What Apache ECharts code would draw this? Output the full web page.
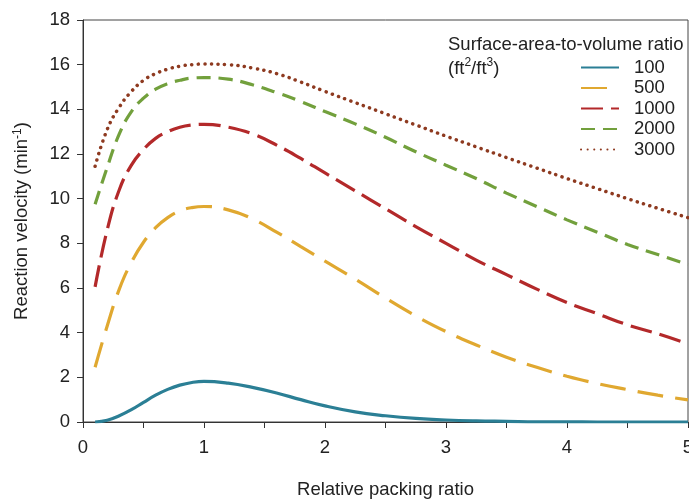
<!DOCTYPE html>
<html>
<head>
<meta charset="utf-8">
<script src="https://cdn.jsdelivr.net/npm/echarts@6/dist/echarts.min.js"></script>
<style>
  html, body { margin: 0; padding: 0; background: #fff; }
  #chart { width: 689px; height: 499px; }
</style>
</head>
<body>
<div id="chart"></div>
<script>
// relative packing ratio
const packing = [0.1, 0.2, 0.3, 0.4, 0.5, 0.6, 0.7, 0.8, 0.9, 1.0, 1.2, 1.4, 1.6, 1.8, 2.0,
  2.25, 2.5, 2.75, 3.0, 3.25, 3.5, 3.75, 4.0, 4.25, 4.5, 4.75, 5.0]

// reaction velocity (min^-1) for each surface-area-to-volume ratio
const sav100 = [0.0, 0.08, 0.28, 0.55, 0.88, 1.2, 1.46, 1.65, 1.77, 1.82, 1.74, 1.55, 1.3, 1.0, 0.72,
  0.45, 0.28, 0.16, 0.09, 0.05, 0.03, 0.01, 0.01, 0, 0, 0, 0]
const sav500 = [2.45, 4.3, 5.95, 7.15, 8.05, 8.7, 9.15, 9.45, 9.6, 9.65, 9.5, 9.1, 8.5, 7.85, 7.2,
  6.4, 5.55, 4.75, 4.05, 3.45, 2.9, 2.45, 2.05, 1.72, 1.45, 1.2, 0.99]
const sav1000 = [6.05, 8.6, 10.4, 11.5, 12.2, 12.7, 13.0, 13.2, 13.3, 13.33, 13.2, 12.9, 12.4, 11.8, 11.15,
  10.35, 9.55, 8.75, 8.0, 7.25, 6.6, 5.95, 5.35, 4.85, 4.35, 3.95, 3.5]
const sav2000 = [9.75, 11.4, 12.9, 13.9, 14.5, 14.9, 15.15, 15.3, 15.4, 15.42, 15.35, 15.1, 14.75, 14.35, 13.9,
  13.35, 12.75, 12.1, 11.5, 10.9, 10.25, 9.65, 9.05, 8.5, 7.95, 7.5, 7.05]
const sav3000 = [11.45, 13.1, 14.1, 14.8, 15.3, 15.6, 15.8, 15.93, 16.0, 16.03, 16.0, 15.85, 15.6, 15.22, 14.8,
  14.3, 13.8, 13.3, 12.8, 12.32, 11.84, 11.37, 10.9, 10.45, 10.0, 9.57, 9.15]

const seriesNames = ['100', '500', '1000', '2000', '3000']
const seriesValues = [sav100, sav500, sav1000, sav2000, sav3000]
const colors = ['#2b7f95', '#e0a830', '#b3292a', '#72a03c', '#8e3a20']
// line dashes per curve
const dashes = ['solid', [26, 12], [22, 8], [14, 8], [0.1, 6.5]]

const font = 'Liberation Sans, Arial, sans-serif'

let chart = echarts.init(document.getElementById('chart'))

let series = seriesNames.map((name, i) => ({
  name: name,
  type: 'line',
  smooth: 0.45,
  showSymbol: false,
  symbol: 'none',
  data: packing.map((x, j) => [x, seriesValues[i][j]]),
  lineStyle: {
    color: colors[i],
    width: i === 4 ? 3.5 : 3.2,
    type: dashes[i],
    cap: i === 4 ? 'round' : 'butt'
  },
  itemStyle: { color: colors[i] }
}))

chart.setOption({
  animation: false,
  backgroundColor: '#fff',
  title: {
    text: 'Surface-area-to-volume ratio\n(ft{sup|2}/ft{sup|3})',
    left: 443,
    top: 28,
    textStyle: {
      fontFamily: font,
      fontSize: 18.5,
      fontWeight: 'normal',
      color: '#222',
      lineHeight: 24,
      rich: {
        sup: { fontSize: 12, verticalAlign: 'top', lineHeight: 18, fontFamily: font, color: '#222' }
      }
    }
  },
  legend: {
    orient: 'vertical',
    left: 575,
    top: 53,
    itemWidth: 38,
    itemHeight: 4,
    itemGap: 1.5,
    itemStyle: { opacity: 0 },
    textStyle: { fontFamily: font, fontSize: 18.5, color: '#222', padding: [0, 0, 0, 10] },
    data: seriesNames
  },
  grid: {
    left: 83,
    right: 1,
    top: 20,
    bottom: 77,
    outerBoundsMode: 'none',
    show: true,
    borderColor: '#444',
    borderWidth: 1
  },
  xAxis: {
    type: 'value',
    min: 0,
    max: 5,
    interval: 1,
    name: 'Relative packing ratio',
    nameLocation: 'middle',
    nameGap: 58,
    nameTextStyle: { fontFamily: font, fontSize: 18.5, color: '#222' },
    axisLine: { show: true, onZero: false, lineStyle: { color: '#333' } },
    axisTick: { show: true, inside: false, length: 6, lineStyle: { color: '#333' } },
    minorTick: { show: true, splitNumber: 2, length: 6, lineStyle: { color: '#333' } },
    axisLabel: { fontFamily: font, fontSize: 18.5, color: '#222', margin: 16 },
    splitLine: { show: false }
  },
  yAxis: {
    type: 'value',
    min: 0,
    max: 18,
    interval: 2,
    name: 'Reaction velocity (min{sup|-1})',
    nameLocation: 'middle',
    nameGap: 52,
    nameTextStyle: {
      fontFamily: font,
      fontSize: 18.5,
      color: '#222',
      rich: {
        sup: { fontSize: 12, verticalAlign: 'top', fontFamily: font, color: '#222' }
      }
    },
    axisLine: { show: true, lineStyle: { color: '#333' } },
    axisTick: { show: true, inside: false, length: 6, lineStyle: { color: '#333' } },
    axisLabel: { fontFamily: font, fontSize: 18.5, color: '#222', margin: 13 },
    splitLine: { show: false }
  },
  series: series
})
</script>
</body>
</html>
